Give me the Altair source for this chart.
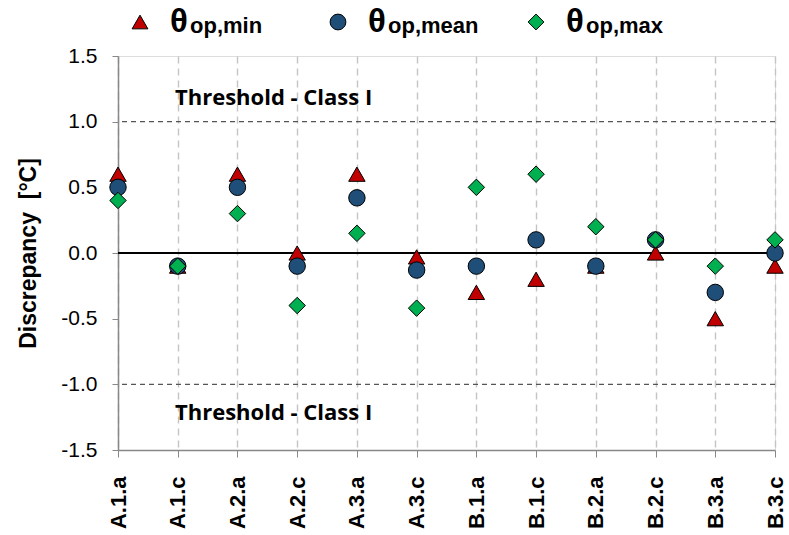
import altair as alt
import pandas as pd

# Test cases along the x axis
categories = ["A.1.a", "A.1.c", "A.2.a", "A.2.c", "A.3.a", "A.3.c",
              "B.1.a", "B.1.c", "B.2.a", "B.2.c", "B.3.a", "B.3.c"]

# Discrepancy [°C] per case for the three operative-temperature statistics
theta_min = [0.6, -0.1, 0.6, 0.0, 0.6, -0.03, -0.3, -0.2, -0.1, 0.0, -0.5, -0.1]
theta_mean = [0.5, -0.1, 0.5, -0.1, 0.42, -0.13, -0.1, 0.1, -0.1, 0.1, -0.3, 0.0]
theta_max = [0.4, -0.1, 0.3, -0.4, 0.15, -0.42, 0.5, 0.6, 0.2, 0.1, -0.1, 0.1]

series_subscripts = ["op,min", "op,mean", "op,max"]
series_values = [theta_min, theta_mean, theta_max]
series_shapes = ["triangle-up", "circle", "diamond"]
series_colors = ["#C00000", "#1F4E79", "#00B050"]

threshold_levels = [1.0, -1.0]
threshold_label = "Threshold - Class I"
threshold_label_y = [1.13, -1.27]
y_ticks = [-1.5, -1.0, -0.5, 0.0, 0.5, 1.0, 1.5]

W, H = 657, 394
FONT = "Liberation Sans"

x_enc = alt.X("case:N", sort=categories,
              scale=alt.Scale(domain=categories, type="point", padding=0),
              axis=alt.Axis(title=None, labelAngle=-90, labelFont=FONT,
                            labelFontSize=22, labelFontWeight="bold",
                            labelColor="black", labelPadding=19,
                            tickSize=7, tickColor="#888", domainColor="#888",
                            domainWidth=1.5, grid=True, gridColor="#c4c4c4",
                            gridDash=[7, 5], gridWidth=1.4))
y_scale = alt.Scale(domain=[-1.5, 1.5], nice=False, zero=False)

# plain hyphen for negative tick labels
y_label_expr = "(datum.value < 0 ? '-' : '') + format(abs(datum.value), '.1f')"

points = []
for vals, shape, color in zip(series_values, series_shapes, series_colors):
    df = pd.DataFrame({"case": categories, "value": vals})
    points.append(
        alt.Chart(df).mark_point(shape=shape, filled=True, fill=color,
                                 stroke="black", strokeWidth=1, size=270,
                                 opacity=1).encode(
            x=x_enc,
            y=alt.Y("value:Q", scale=y_scale,
                    axis=alt.Axis(title="Discrepancy\u00a0\u00a0[°C]",
                                  values=y_ticks, labelExpr=y_label_expr,
                                  grid=False, labelFont=FONT,
                                  labelFontSize=21, labelColor="black",
                                  labelPadding=15, tickSize=6, tickColor="#888",
                                  domainColor="#888", domainWidth=1.5,
                                  titleFont=FONT, titleFontSize=23,
                                  titleFontWeight="bold", titleColor="black",
                                  titlePadding=20))
        )
    )

thr_df = pd.DataFrame({"level": threshold_levels})
thresholds = alt.Chart(thr_df).mark_rule(color="#555", strokeWidth=1.3,
                                         strokeDash=[5, 4]).encode(
    y=alt.Y("level:Q", scale=y_scale))
zero_line = alt.Chart(pd.DataFrame({"level": [0.0]})).mark_rule(
    color="black", strokeWidth=2).encode(y=alt.Y("level:Q", scale=y_scale))

lab_df = pd.DataFrame({"ly": threshold_label_y, "text": [threshold_label] * 2})
thr_text = alt.Chart(lab_df).mark_text(
    align="left", baseline="alphabetic", font="Open Sans", fontSize=22,
    fontWeight="bold", color="black").encode(
    x=alt.value(57), y=alt.Y("ly:Q", scale=y_scale), text="text:N")

# Custom legend above the plot: symbol, large theta, subscripted label
legend_layers = []
one = pd.DataFrame({"k": [0]})
legend_x = [22, 220, 418]
for lx, sub, shape, color in zip(legend_x, series_subscripts, series_shapes,
                                 series_colors):
    legend_layers.append(alt.Chart(one).mark_point(
        shape=shape, filled=True, fill=color, stroke="black", strokeWidth=1,
        size=250, opacity=1).encode(x=alt.value(lx), y=alt.value(-34)))
    legend_layers.append(alt.Chart(one).mark_text(
        align="left", baseline="alphabetic", font=FONT, fontSize=33,
        fontWeight="bold", color="black", text="θ").encode(
        x=alt.value(lx + 30), y=alt.value(-24)))
    legend_layers.append(alt.Chart(one).mark_text(
        align="left", baseline="alphabetic", font=FONT, fontSize=22,
        fontWeight="bold", color="black", text=sub).encode(
        x=alt.value(lx + 50), y=alt.value(-23)))

chart = alt.layer(thresholds, zero_line, *points, thr_text,
                  *legend_layers).properties(
    width=W, height=H,
    autosize=alt.AutoSizeParams(type="none"),
    padding={"left": 118, "top": 56, "right": 14, "bottom": 85},
).configure_view(stroke="#888", strokeWidth=1.5).configure(background="white")

chart.save("out.html", embed_options={"renderer": "svg", "actions": False})
